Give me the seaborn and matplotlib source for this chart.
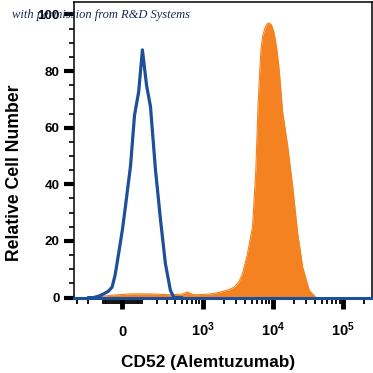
import matplotlib
matplotlib.use("Agg")
import matplotlib.pyplot as plt
from matplotlib.ticker import FixedLocator
import numpy as np
import pandas as pd
import seaborn as sns

# isotype control (blue outline), intensity vs relative count
control_x = [-200, -158, -120, -95, -70, -50, -35, -18, 0, 14, 39, 59, 81, 102,
             127, 153, 190, 232, 279, 335, 379, 500]
control_y = [0, 0, 0.6, 1.3, 2.2, 3.7, 8, 15.6, 24, 32, 46.5, 64.4, 72.7, 87.5,
             75, 67.5, 45, 27.5, 12, 2.5, 0, 0]

# CD52 stained cells (orange filled)
cd52_x = [-150, -114, -59, 0, 39, 153, 335, 500, 602, 700, 793, 1000, 1308,
          1700, 2027, 2400, 2819, 3300, 3722, 4384, 5166, 5758, 6213, 6788,
          7180, 7744, 8270, 8916, 9640, 10515, 11500, 12392, 13856, 16340,
          19256, 22700, 26750, 33230, 41470]
cd52_y = [0, 0.3, 0.8, 1.1, 1.3, 1.3, 1.0, 1.2, 2.0, 1.2, 1.0, 1.1, 1.3,
          1.8, 2.3, 2.8, 3.7, 5.5, 8.5, 15.6, 25, 45, 69, 87,
          92.2, 95.1, 96.6, 97, 96.3, 93.4, 87.5, 80.4, 65.6, 53.7,
          39.4, 22.7, 10.8, 2.5, 0]

x_major = [0, 1e3, 1e4, 1e5]
x_major_labels = ["0", r"$\mathbf{10^{3}}$", r"$\mathbf{10^{4}}$", r"$\mathbf{10^{5}}$"]
y_major = [0, 20, 40, 60, 80, 100]

BLUE = "#1d4f9a"
ORANGE = "#f58220"
COF = 145.0


def fwd(v):
    return np.arcsinh(np.asarray(v) / COF)


def inv(v):
    return COF * np.sinh(np.asarray(v))


sns.set_style("white")
plt.rcParams["font.family"] = ["Liberation Sans", "DejaVu Sans"]
plt.rcParams["mathtext.fontset"] = "custom"
plt.rcParams["mathtext.bf"] = "Liberation Sans:bold"
plt.rcParams["mathtext.rm"] = "Liberation Sans"
plt.rcParams["text.color"] = "black"
plt.rcParams["axes.labelcolor"] = "black"
plt.rcParams["xtick.color"] = "black"
plt.rcParams["ytick.color"] = "black"

fig = plt.figure(figsize=(3.73, 3.73), dpi=100)
ax = fig.add_axes([74 / 373, 1 - 299 / 373, 298 / 373, 297 / 373])
ax.set_xscale("function", functions=(fwd, inv))

ctrl = pd.DataFrame({"x": control_x, "y": control_y})
cd52 = pd.DataFrame({"x": cd52_x, "y": cd52_y})

ax.fill_between(cd52["x"], 0, cd52["y"], color=ORANGE, lw=0)
sns.lineplot(data=cd52, x="x", y="y", ax=ax, color=ORANGE, lw=0.8, sort=False)
sns.lineplot(data=ctrl, x="x", y="y", ax=ax, color=BLUE, lw=2.3, sort=False)

ax.set_xlim(-340, 2.6e5)
ax.set_ylim(-0.5, 104.4)

# axes frame
for side in ["left", "top", "right"]:
    ax.spines[side].set_color("black")
    ax.spines[side].set_linewidth(1.1)
ax.spines["bottom"].set_position(("data", 0))
ax.spines["bottom"].set_color(BLUE)
ax.spines["bottom"].set_linewidth(2.2)

# y ticks
ax.yaxis.set_major_locator(FixedLocator(y_major))
ax.yaxis.set_minor_locator(FixedLocator([v for v in range(0, 105, 5) if v % 20]))
ax.tick_params(axis="y", which="major", direction="out", length=7, width=3,
               color="black", pad=3.5, labelsize=9.7, left=True)
ax.tick_params(axis="y", which="minor", direction="out", length=3.5, width=1.2,
               color="black", left=True)
for lab in ax.get_yticklabels():
    lab.set_fontweight("bold")

# x ticks (logicle-like axis)
minors = [-300, -200, -100] + list(range(-90, 100, 10))
for dec in [100, 1000, 10000, 100000]:
    minors += [k * dec for k in range(1, 10) if k * dec <= 2e5]
ax.xaxis.set_major_locator(FixedLocator(x_major))
ax.xaxis.set_minor_locator(FixedLocator(minors))
ax.set_xticklabels(x_major_labels)
ax.tick_params(axis="x", which="major", direction="out", length=8, width=3.5,
               color="black", pad=20, labelsize=10.5, bottom=True)
ax.tick_params(axis="x", which="minor", direction="out", length=4, width=1.3,
               color="black", bottom=True)
for lab in ax.get_xticklabels():
    lab.set_fontweight("bold")
    lab.set_verticalalignment("baseline")

ax.set_xlabel("CD52 (Alemtuzumab)", fontsize=12.4, fontweight="bold", labelpad=11)
ax.set_ylabel("Relative Cell Number", fontsize=12.7, fontweight="bold", labelpad=10)
ax.xaxis.label.set_x(0.45)
ax.yaxis.label.set_y(0.424)

fig.text(12 / 373, 1 - 15 / 373, "with permission from R&D Systems",
         fontsize=9, style="italic", family="Liberation Serif", color="#1a2a55",
         va="center", ha="left")

fig.savefig("out.png", dpi=100)
